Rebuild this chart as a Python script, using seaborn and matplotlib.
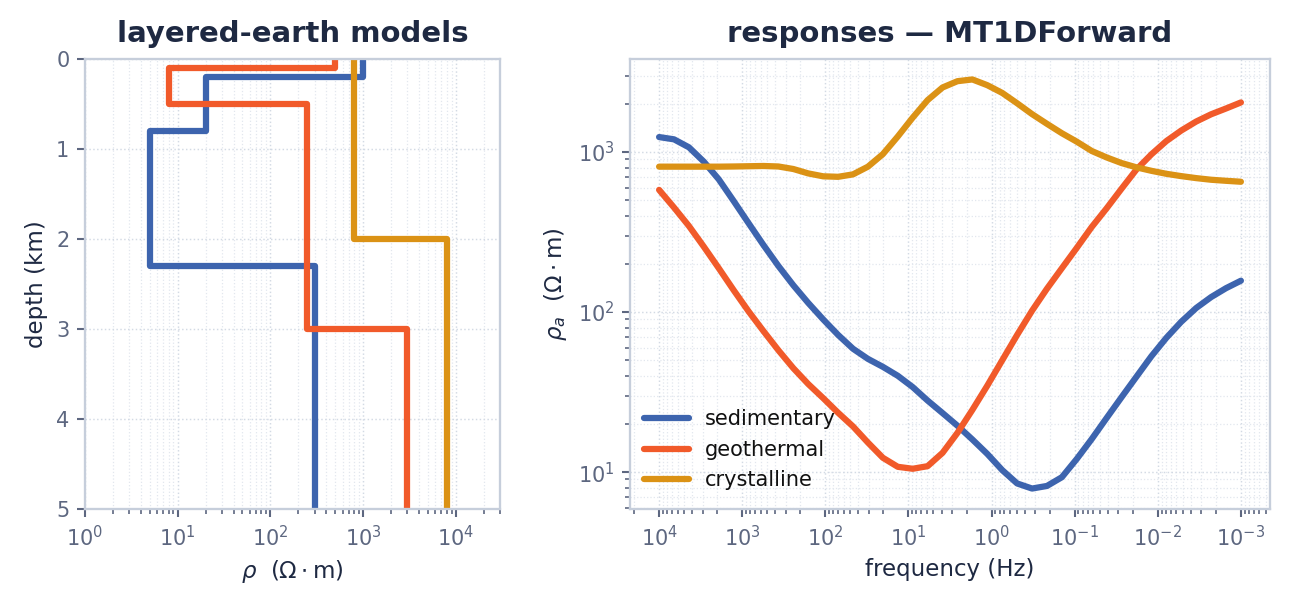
import numpy as np
import pandas as pd
import matplotlib
matplotlib.use("Agg")
import matplotlib.pyplot as plt
import seaborn as sns

# layered models: layer tops (km) and resistivities (ohm-m)
sed_tops = [0.0, 0.2, 0.8, 2.3]
sed_rho = [1000, 20, 5, 300]
geo_tops = [0.0, 0.1, 0.5, 3.0]
geo_rho = [500, 8, 250, 3000]
cry_tops = [0.0, 2.0]
cry_rho = [800, 8000]
max_depth = 5.0

# responses: apparent resistivity at 40 log-spaced frequencies, 1e4 .. 1e-3 Hz
freq = np.logspace(4, -3, 40)
rho_a_sed = [1240, 1200, 1070, 870, 675, 494, 359, 262, 194, 147,
             114, 90, 72, 59, 51, 45.5, 40, 34, 28, 23.4,
             19.5, 16, 13, 10.3, 8.5, 7.9, 8.2, 9.3, 12.1, 16.1,
             21.8, 29.4, 39.5, 53, 69, 87, 106, 124, 141, 157]
rho_a_geo = [580, 450, 345, 256, 188, 137, 101, 76, 57.7, 44.6,
             35.5, 29, 23.5, 19.3, 15.3, 12.3, 10.8, 10.5, 10.9, 13.2,
             17.6, 24.5, 34.7, 50, 72, 102, 140, 188, 252, 340,
             445, 590, 778, 967, 1170, 1362, 1550, 1720, 1870, 2040]
rho_a_cry = [810, 810, 810, 810, 810, 812, 815, 818, 812, 783,
             735, 705, 700, 725, 810, 970, 1250, 1640, 2110, 2530,
             2770, 2840, 2615, 2340, 2016, 1725, 1500, 1310, 1160, 1015,
             925, 853, 802, 763, 731, 707, 687, 671, 661, 652]

names = ["sedimentary", "geothermal", "crystalline"]
colors = {"sedimentary": "#3d64ae", "geothermal": "#f15a2a", "crystalline": "#db9215"}

NAVY = "#1e2942"
TICK = "#5d6780"
SPINE = "#c6cedb"


def steps(tops, rho):
    bottoms = list(tops[1:]) + [max_depth]
    x = np.repeat(rho, 2)
    y = np.ravel(np.column_stack([tops, bottoms]))
    return x, y


rows = []
for name, tops, rho in zip(names, [sed_tops, geo_tops, cry_tops], [sed_rho, geo_rho, cry_rho]):
    x, y = steps(tops, rho)
    for xx, yy in zip(x, y):
        rows.append({"model": name, "rho": xx, "depth": yy})
models = pd.DataFrame(rows)

resp = pd.DataFrame({
    "freq": np.tile(freq, 3),
    "rho_a": np.concatenate([rho_a_sed, rho_a_geo, rho_a_cry]),
    "model": np.repeat(names, len(freq)),
})

sns.set_theme(style="white")
plt.rcParams["font.family"] = ["DejaVu Sans"]
plt.rcParams["mathtext.fontset"] = "dejavusans"

fig, (ax1, ax2) = plt.subplots(1, 2, figsize=(8.6, 4.0667), dpi=150,
                               gridspec_kw={"width_ratios": [415, 640]})
fig.subplots_adjust(left=85 / 1290, right=1270 / 1290, top=1 - 59 / 610,
                    bottom=1 - 509 / 610, wspace=130 / 527.5)

# left: layered models
sns.lineplot(data=models, x="rho", y="depth", hue="model", palette=colors,
             sort=False, orient="y", estimator=None, units="model",
             lw=3.0, ax=ax1, legend=False)
ax1.set_xscale("log")
ax1.set_xlim(1, 3e4)
ax1.set_ylim(max_depth, 0)
ax1.set_yticks([0, 1, 2, 3, 4, 5])
ax1.set_title("layered-earth models", fontsize=14, fontweight="bold", color=NAVY, pad=8)
ax1.set_xlabel(r"$\rho$  ($\Omega\cdot$m)", fontsize=11, color=NAVY)
ax1.set_ylabel("depth (km)", fontsize=11, color=NAVY)

# right: MT responses
sns.lineplot(data=resp, x="freq", y="rho_a", hue="model", palette=colors,
             lw=3.0, ax=ax2)
ax2.set_xscale("log")
ax2.set_yscale("log")
ax2.invert_xaxis()
ax2.set_xticks(10.0 ** np.arange(4, -4, -1))
ax2.set_title("responses — MT1DForward", fontsize=14, fontweight="bold", color=NAVY, pad=8)
ax2.set_xlabel("frequency (Hz)", fontsize=11, color=NAVY)
ax2.set_ylabel(r"$\rho_a$  ($\Omega\cdot$m)", fontsize=11, color=NAVY)
ax2.legend(loc="lower left", frameon=False, fontsize=10, handlelength=2.2,
           handletextpad=0.75, bbox_to_anchor=(-0.008, 0.0), labelcolor="#111111")

for ax in (ax1, ax2):
    ax.grid(True, which="major", ls=":", lw=0.7, color="#d3dae4")
    ax.grid(True, which="minor", ls=":", lw=0.6, color="#e2e7ee")
    ax.tick_params(which="both", direction="out", colors=TICK, labelsize=10)
    ax.tick_params(which="major", length=4, width=1)
    ax.tick_params(which="minor", length=2.5, width=0.8)
    ax.tick_params(axis="x", which="both", bottom=True)
    ax.tick_params(axis="y", which="both", left=True)
    for s in ax.spines.values():
        s.set_color(SPINE)
        s.set_linewidth(1.1)
ax1.tick_params(axis="y", which="minor", left=False)
ax1.grid(False, axis="y", which="minor")

fig.savefig("out.png", dpi=150)
